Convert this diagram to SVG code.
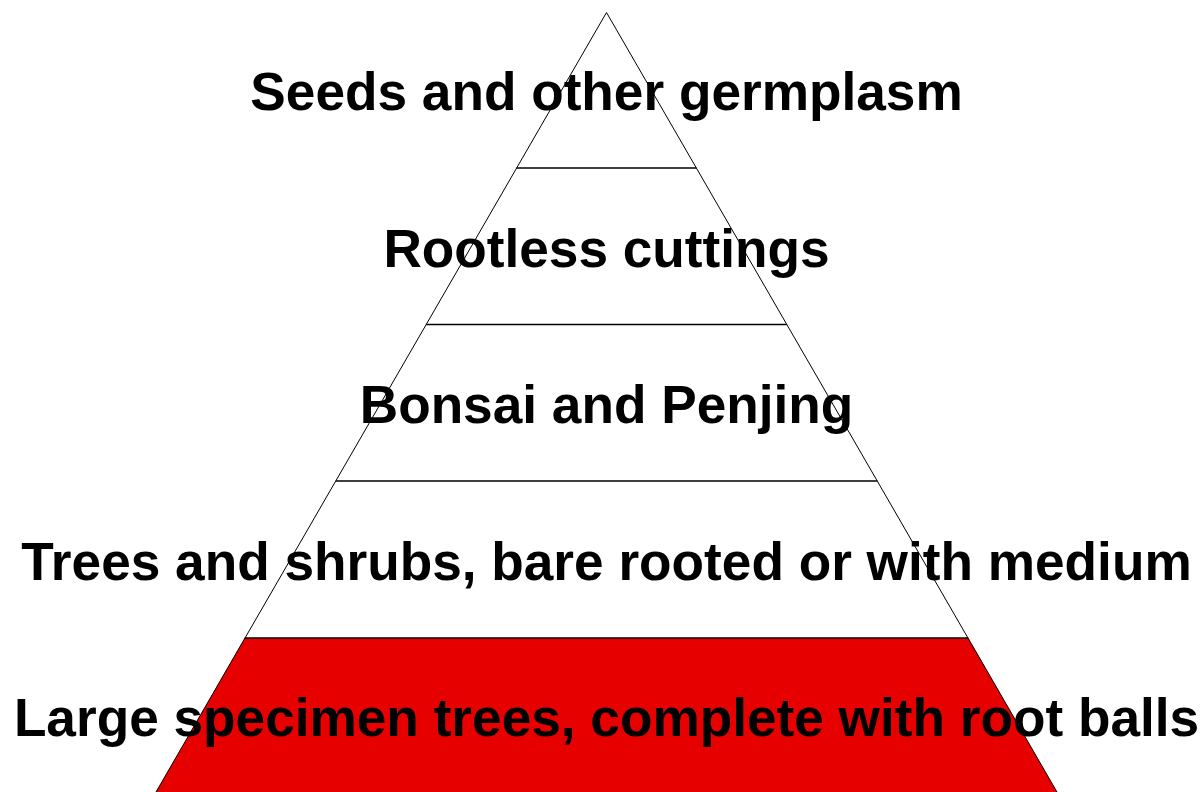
<svg xmlns="http://www.w3.org/2000/svg" width="1203" height="792" viewBox="0 0 1203 792">
  <style>
    .tier { fill: #ffffff; stroke: none; }
    .red { fill: #e60000; }
    .side { stroke: #000000; stroke-width: 1; fill: none; }
    .div { stroke: #000000; stroke-width: 1.6; }
    .lbl { font-family: "Liberation Sans", Arial, sans-serif; font-weight: bold; font-size: 53.2px; fill: #000000; text-anchor: middle; }
  </style>
  <rect width="1203" height="792" fill="#ffffff"/>
  <g id="tier1">
    <polygon class="tier" points="606.5,12.5 696.4,168 516.6,168"/>
  </g>
  <g id="tier2">
    <polygon class="tier" points="516.6,168 696.4,168 786.8,324.5 426.2,324.5"/>
  </g>
  <g id="tier3">
    <polygon class="tier" points="426.2,324.5 786.8,324.5 877.2,481 335.8,481"/>
  </g>
  <g id="tier4">
    <polygon class="tier" points="335.8,481 877.2,481 968.3,638 244.7,638"/>
  </g>
  <g id="tier5">
    <polygon class="red" points="244.7,638 968.3,638 1058.7,795 154.3,795"/>
  </g>
  <g id="connectors">
    <polyline class="side" points="154.3,795 606.5,12.5 1058.7,795"/>
    <line class="div" x1="516.6" y1="168" x2="696.4" y2="168"/>
    <line class="div" x1="426.2" y1="324.5" x2="786.8" y2="324.5"/>
    <line class="div" x1="335.8" y1="481" x2="877.2" y2="481"/>
    <line class="div" x1="244.7" y1="638" x2="968.3" y2="638"/>
  </g>
  <g id="labels">
    <text class="lbl" x="606.5" y="110">Seeds and other germplasm</text>
    <text class="lbl" x="606.5" y="266.5">Rootless cuttings</text>
    <text class="lbl" x="606.5" y="423">Bonsai and Penjing</text>
    <text class="lbl" x="606.5" y="579.5">Trees and shrubs, bare rooted or with medium</text>
    <text class="lbl" x="606.5" y="735.5">Large specimen trees, complete with root balls</text>
  </g>
</svg>
